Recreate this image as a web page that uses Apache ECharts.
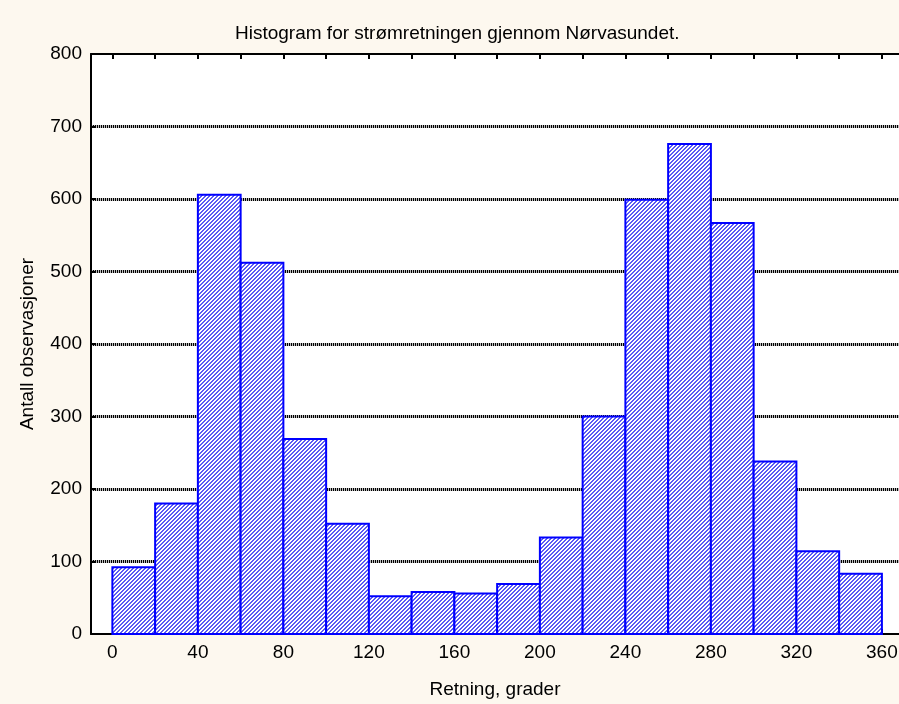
<!DOCTYPE html>
<html>
<head>
<meta charset="utf-8">
<title>Histogram for strømretningen gjennom Nørvasundet.</title>
<script src="https://cdn.jsdelivr.net/npm/echarts@6/dist/echarts.min.js"></script>
<style>
  html, body { margin: 0; padding: 0; background: #fdf8ef; }
  #chart { width: 899px; height: 704px; }
</style>
</head>
<body>
<div id="chart"></div>
<script>
// bins of 20 degrees, left edge of each bin
const binLeft = [0, 20, 40, 60, 80, 100, 120, 140, 160, 180, 200, 220, 240, 260, 280, 300, 320, 340];
const binWidth = 20;
const counts = [92, 180, 606, 512, 269, 152, 52, 58, 56, 69, 133, 300, 599, 676, 567, 238, 114, 83];

const xTicks = [0, 20, 40, 60, 80, 100, 120, 140, 160, 180, 200, 220, 240, 260, 280, 300, 320, 340, 360];
const xLabels = [0, 40, 80, 120, 160, 200, 240, 280, 320, 360];

const titleText = 'Histogram for strømretningen gjennom Nørvasundet.';
const xName = 'Retning, grader';
const yName = 'Antall observasjoner';

// hatch fill: thin blue diagonals on white
function makeHatch() {
  const c = document.createElement('canvas');
  c.width = 4;
  c.height = 4;
  const ctx = c.getContext('2d');
  ctx.fillStyle = '#ffffff';
  ctx.fillRect(0, 0, 4, 4);
  ctx.fillStyle = '#5a5af4';
  for (let x = 0; x < 4; x++) {
    for (let y = 0; y < 4; y++) {
      if ((x + y) % 4 < 2) ctx.fillRect(x, y, 1, 1);
    }
  }
  return c;
}
const hatch = { image: makeHatch(), repeat: 'repeat' };

const barData = binLeft.map((x, i) => [x, x + binWidth, counts[i]]);

const font = 'Liberation Sans, Arial, sans-serif';
const chart = echarts.init(document.getElementById('chart'));

chart.setOption({
  backgroundColor: '#fdf8ef',
  animation: false,
  title: {
    text: titleText,
    left: 235,
    top: 24,
    padding: 0,
    textStyle: { fontFamily: font, fontSize: 19, fontWeight: 'normal', color: '#000' }
  },
  grid: {
    left: 91,
    top: 54,
    width: 808,
    height: 580,
    outerBoundsMode: 'none',
    backgroundColor: '#ffffff',
    show: true,
    borderWidth: 0
  },
  xAxis: [
    {
      type: 'value',
      min: -10,
      max: 368,
      name: xName,
      nameLocation: 'middle',
      nameGap: 46,
      nameTextStyle: { fontFamily: font, fontSize: 19, color: '#000' },
      axisLine: { show: true, onZero: false, lineStyle: { color: '#000', width: 2 } },
      axisTick: { show: true, inside: true, length: 5, customValues: xTicks, lineStyle: { color: '#000', width: 2 } },
      axisLabel: { customValues: xLabels, margin: 9, fontFamily: font, fontSize: 19, color: '#000' },
      splitLine: { show: false }
    },
    {
      type: 'value',
      position: 'top',
      min: -10,
      max: 368,
      axisLine: { show: true, onZero: false, lineStyle: { color: '#000', width: 2 } },
      axisTick: { show: true, inside: true, length: 5, customValues: xTicks, lineStyle: { color: '#000', width: 2 } },
      axisLabel: { show: false },
      splitLine: { show: false }
    }
  ],
  yAxis: [
    {
      type: 'value',
      min: 0,
      max: 800,
      interval: 100,
      z: 1,
      name: yName,
      nameLocation: 'middle',
      nameGap: 54,
      nameTextStyle: { fontFamily: font, fontSize: 19, color: '#000' },
      axisLine: { show: true, onZero: false, lineStyle: { color: '#000', width: 2 } },
      axisTick: { show: true, inside: true, length: 5, lineStyle: { color: '#000', width: 2 } },
      axisLabel: { margin: 9, fontFamily: font, fontSize: 19, color: '#000' },
      splitLine: {
        show: true,
        showMinLine: false,
        showMaxLine: false,
        lineStyle: { color: '#000', width: 3, type: [1, 1] }
      }
    },
    {
      // gray band under the dotted grid lines
      type: 'value',
      min: 0,
      max: 800,
      interval: 100,
      z: 0,
      axisLine: { show: false },
      axisTick: { show: false },
      axisLabel: { show: false },
      splitLine: {
        show: true,
        showMinLine: false,
        showMaxLine: false,
        lineStyle: { color: '#bdbdbd', width: 3 }
      }
    }
  ],
  series: [
    {
      type: 'custom',
      xAxisIndex: 0,
      yAxisIndex: 0,
      data: barData,
      renderItem: function (params, api) {
        const p0 = api.coord([api.value(0), 0]);
        const p1 = api.coord([api.value(1), api.value(2)]);
        return {
          type: 'rect',
          shape: { x: p0[0], y: p1[1], width: p1[0] - p0[0], height: p0[1] - p1[1] },
          style: { fill: hatch, stroke: '#0000ff', lineWidth: 2 }
        };
      }
    }
  ]
});
</script>
</body>
</html>
